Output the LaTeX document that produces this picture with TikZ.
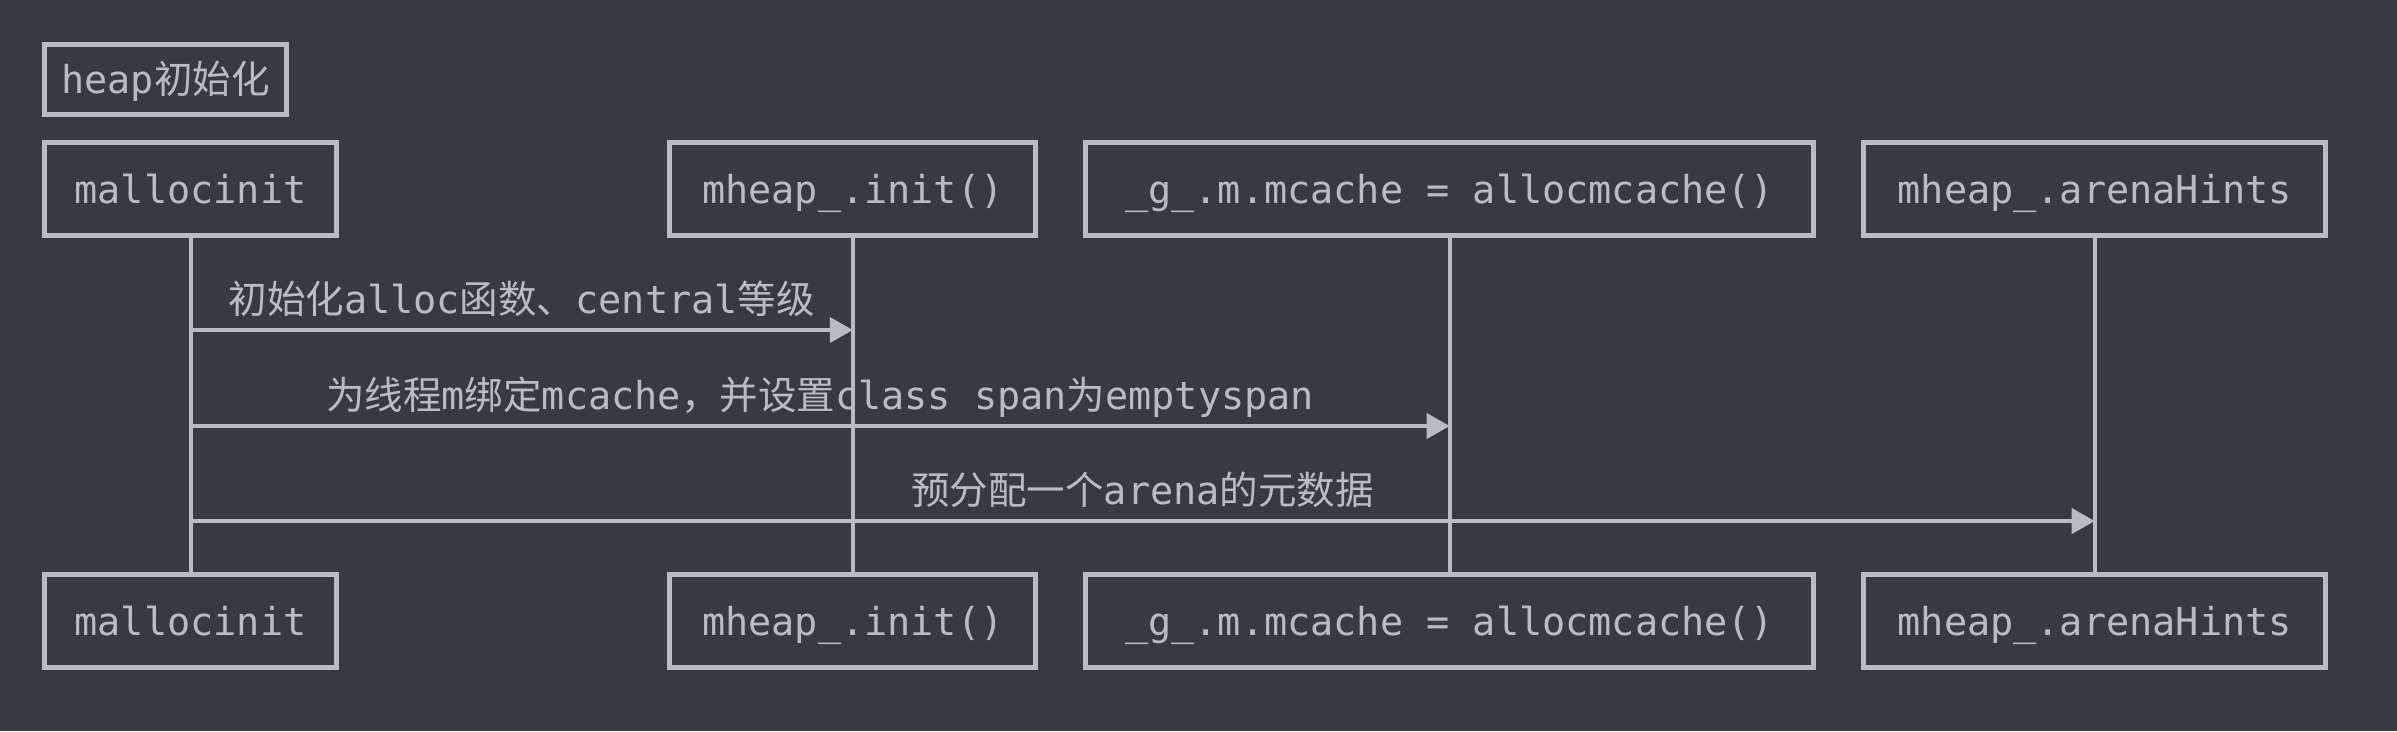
\documentclass[tikz,border=0pt]{standalone}
\usepackage{fontspec}
\setmonofont{DejaVu Sans Mono}
\newfontfamily\cjkfont{Noto Sans CJK SC}
\usepackage{tikz}
\usetikzlibrary{arrows.meta}
\definecolor{bgdark}{RGB}{56,58,63}
\definecolor{linegray}{RGB}{185,188,193}
\newcommand{\zh}[1]{{\cjkfont #1}}
\tikzstyle{actor}=[draw=linegray,line width=5pt,minimum height=93pt,inner sep=0pt,
  text height=34pt,text depth=6pt,text=linegray]
\tikzstyle{life}=[draw=linegray,line width=4pt]
\tikzstyle{msg}=[draw=linegray,line width=4pt,-{Triangle[length=23pt,width=25pt]}]
\tikzstyle{msglabel}=[text=linegray,anchor=base,inner sep=0pt,yshift=17pt]

\begin{document}
\begin{tikzpicture}[x=1pt,y=-1pt,font=\ttfamily\fontsize{38.5}{46}\selectfont]
  \fill[bgdark] (0,0) rectangle (2397,731);
  \useasboundingbox (0,0) rectangle (2397,731);
  \node[actor,minimum width=242pt,minimum height=70pt] (title) at (165.5,79.5) {heap\zh{初始化}};
  \foreach \i/\x/\w/\name in {1/190.5/292/mallocinit, 2/852.8/366/mheap\_.init(), 3/1449.7/728/\_g\_.m.mcache = allocmcache(), 4/2094.7/462/mheap\_.arenaHints}{
    \node[actor,minimum width=\w pt] (top\i) at (\x,189) {\name};
    \node[actor,minimum width=\w pt] (bot\i) at (\x,621) {\name};
    \draw[life] (top\i) -- (bot\i);
  }
  \foreach \j/\t/\y/\txt in {1/2/330/{\zh{初始化}alloc\zh{函数、}central\zh{等级}},
      2/3/426/{\zh{为线程}m\zh{绑定}mcache\zh{，并设置}class span\zh{为}emptyspan},
      3/4/521/{\zh{预分配一个}arena\zh{的元数据}}}{
    \coordinate (from\j) at (top1.south |- 0,\y);
    \coordinate (to\j) at (top\t.south |- 0,\y);
    \draw[msg] (from\j) -- node[msglabel] (lab\j) {\txt} (to\j);
  }
\end{tikzpicture}
\end{document}
